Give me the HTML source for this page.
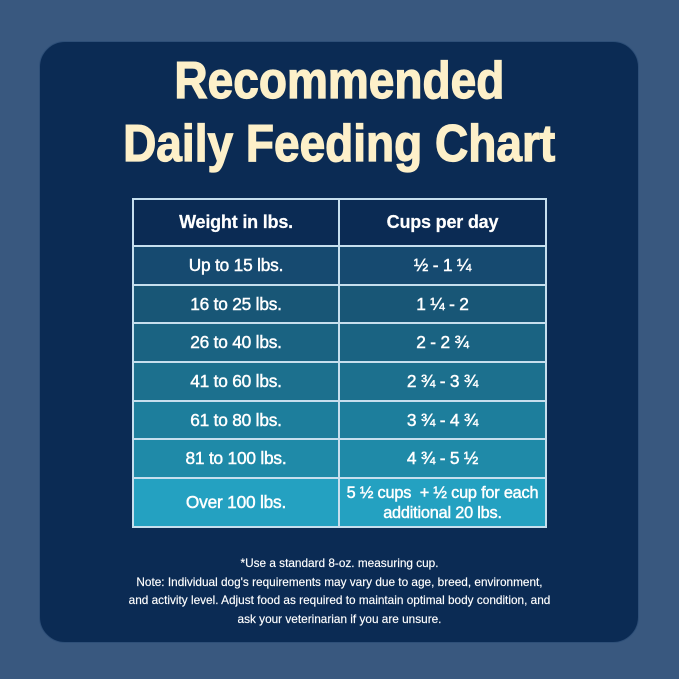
<!DOCTYPE html>
<html><head><meta charset="utf-8"><style>
*{margin:0;padding:0;box-sizing:border-box}
html,body{width:679px;height:679px;overflow:hidden;background:#39587f}
body{position:relative;font-family:"Liberation Sans",Arial,sans-serif}
.card{position:absolute;left:39px;top:41px;width:600px;height:602px;background:#0b2b54;border-radius:26px;border:1px solid #2e4f78}
.title{position:absolute;left:0;width:679px;text-align:center;font-weight:bold;font-size:52px;line-height:63px;color:#fdf0c9;white-space:nowrap;-webkit-text-stroke:1.3px #fdf0c9}
.title span{display:inline-block;transform:scaleX(0.885);transform-origin:center}
.cell{position:absolute;display:flex;align-items:center;justify-content:center;color:#fff;font-size:17.3px;text-align:center;-webkit-text-stroke:0.45px #fff;letter-spacing:-0.2px}
.hd{font-weight:bold;-webkit-text-stroke:0.2px #fff;font-size:18px;letter-spacing:-0.2px}
.line{position:absolute;background:#c6dfee}
.note{position:absolute;left:0;width:679px;top:554px;text-align:center;color:#fff;font-size:11.8px;line-height:18.5px;-webkit-text-stroke:0.15px #fff}
</style></head><body>
<div class="card"></div>
<div class="title" style="top:50px"><span>Recommended</span></div>
<div class="title" style="top:113px"><span>Daily Feeding Chart</span></div>

<!-- row backgrounds -->
<div style="position:absolute;left:132px;top:198px;width:415px;height:48px;background:#0b2b54"></div>
<div style="position:absolute;left:132px;top:246px;width:415px;height:39px;background:#164a70"></div>
<div style="position:absolute;left:132px;top:285px;width:415px;height:38px;background:#185676"></div>
<div style="position:absolute;left:132px;top:323px;width:415px;height:39px;background:#1a6382"></div>
<div style="position:absolute;left:132px;top:362px;width:415px;height:39px;background:#1c708e"></div>
<div style="position:absolute;left:132px;top:401px;width:415px;height:38px;background:#1d7e9c"></div>
<div style="position:absolute;left:132px;top:439px;width:415px;height:39px;background:#1f8aa8"></div>
<div style="position:absolute;left:132px;top:478px;width:415px;height:49px;background:#24a1c1"></div>

<!-- lines -->
<div class="line" style="left:132px;top:198px;width:415px;height:2px"></div>
<div class="line" style="left:132px;top:245px;width:415px;height:2px"></div>
<div class="line" style="left:132px;top:284px;width:415px;height:2px"></div>
<div class="line" style="left:132px;top:322px;width:415px;height:2px"></div>
<div class="line" style="left:132px;top:361px;width:415px;height:2px"></div>
<div class="line" style="left:132px;top:400px;width:415px;height:2px"></div>
<div class="line" style="left:132px;top:438px;width:415px;height:2px"></div>
<div class="line" style="left:132px;top:477px;width:415px;height:2px"></div>
<div class="line" style="left:132px;top:526px;width:415px;height:2px"></div>
<div class="line" style="left:132px;top:198px;width:2px;height:330px"></div>
<div class="line" style="left:338px;top:198px;width:2px;height:330px"></div>
<div class="line" style="left:545px;top:198px;width:2px;height:330px"></div>

<!-- text -->
<div class="cell hd" style="left:134px;top:200px;width:204px;height:45px">Weight in lbs.</div>
<div class="cell hd" style="left:340px;top:200px;width:205px;height:45px">Cups per day</div>

<div class="cell" style="left:134px;top:247px;width:204px;height:37px">Up to 15 lbs.</div>
<div class="cell" style="left:340px;top:247px;width:205px;height:37px">½ - 1 ¼</div>
<div class="cell" style="left:134px;top:286px;width:204px;height:36px">16 to 25 lbs.</div>
<div class="cell" style="left:340px;top:286px;width:205px;height:36px">1 ¼ - 2</div>
<div class="cell" style="left:134px;top:324px;width:204px;height:37px">26 to 40 lbs.</div>
<div class="cell" style="left:340px;top:324px;width:205px;height:37px">2 - 2 ¾</div>
<div class="cell" style="left:134px;top:363px;width:204px;height:37px">41 to 60 lbs.</div>
<div class="cell" style="left:340px;top:363px;width:205px;height:37px">2 ¾ - 3 ¾</div>
<div class="cell" style="left:134px;top:402px;width:204px;height:36px">61 to 80 lbs.</div>
<div class="cell" style="left:340px;top:402px;width:205px;height:36px">3 ¾ - 4 ¾</div>
<div class="cell" style="left:134px;top:440px;width:204px;height:37px">81 to 100 lbs.</div>
<div class="cell" style="left:340px;top:440px;width:205px;height:37px">4 ¾ - 5 ½</div>
<div class="cell" style="left:134px;top:479px;width:204px;height:47px">Over 100 lbs.</div>
<div class="cell" style="left:340px;top:479px;width:205px;height:47px;font-size:16.3px;line-height:20px">5 ½ cups&nbsp; + ½ cup for each<br>additional 20 lbs.</div>

<div class="note">*Use a standard 8-oz. measuring cup.<br>Note: Individual dog's requirements may vary due to age, breed, environment,<br>and activity level. Adjust food as required to maintain optimal body condition, and<br>ask your veterinarian if you are unsure.</div>
</body></html>
